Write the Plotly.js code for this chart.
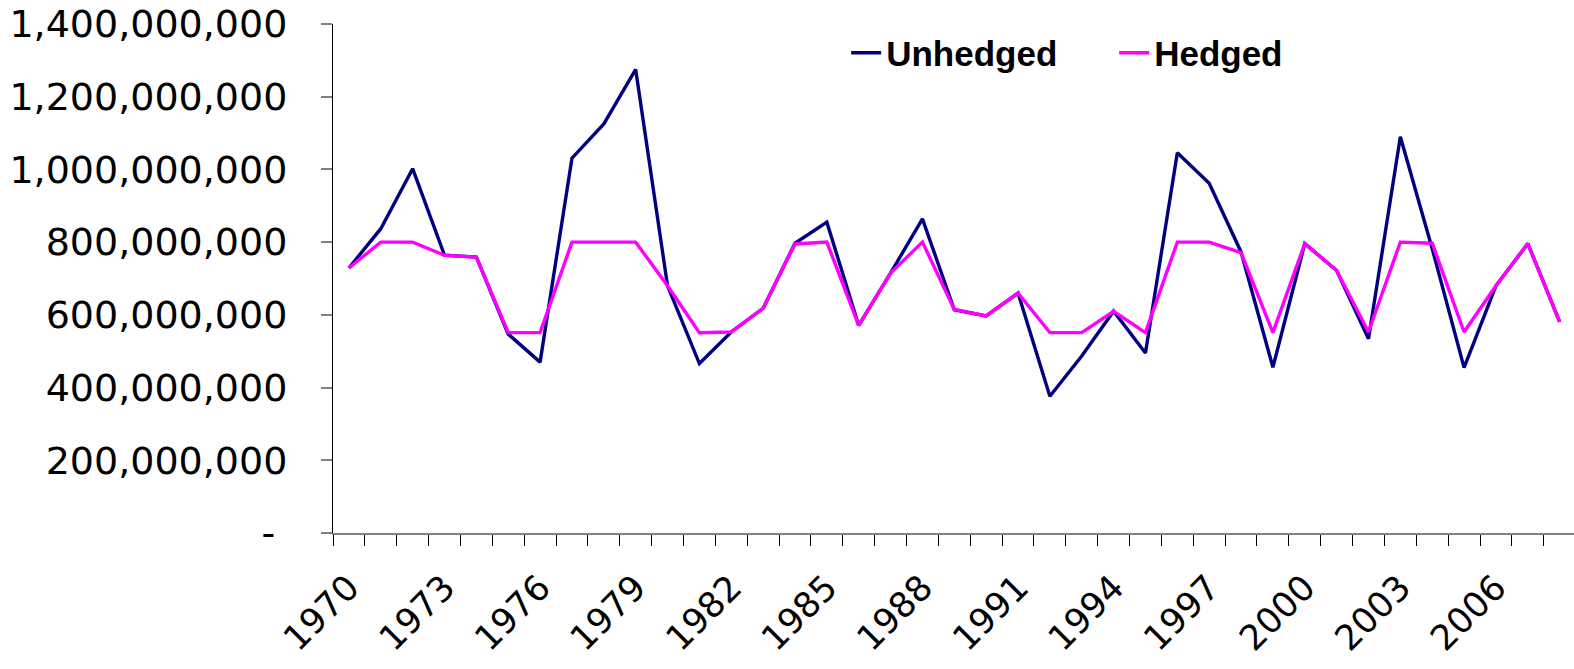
<!DOCTYPE html>
<html>
<head>
<meta charset="utf-8">
<script src="https://cdn.plot.ly/plotly-3.0.1.min.js"></script>
<style>
  html, body { margin: 0; padding: 0; background: #ffffff; }
  #chart { width: 1574px; height: 669px; }
</style>
</head>
<body>
<div id="chart"></div>
<script>
// ---- data ----
const years = [1970, 1971, 1972, 1973, 1974, 1975, 1976, 1977, 1978, 1979,
               1980, 1981, 1982, 1983, 1984, 1985, 1986, 1987, 1988, 1989,
               1990, 1991, 1992, 1993, 1994, 1995, 1996, 1997, 1998, 1999,
               2000, 2001, 2002, 2003, 2004, 2005, 2006, 2007, 2008];

const unhedged = [729e6, 837e6, 1002e6, 764e6, 759e6, 547e6, 470e6, 1031e6, 1125e6, 1275e6,
                  680e6, 466e6, 553e6, 618e6, 797e6, 855e6, 571e6, 715e6, 864e6, 614e6,
                  597e6, 660e6, 376e6, 487e6, 610e6, 495e6, 1046e6, 962e6, 773e6, 456e6,
                  796e6, 722e6, 534e6, 1090e6, 782e6, 455e6, 680e6, 796e6, 581e6];

const hedged = [729e6, 800e6, 800e6, 764e6, 759e6, 551e6, 551e6, 800e6, 800e6, 800e6,
                680e6, 551e6, 553e6, 618e6, 795e6, 800e6, 571e6, 715e6, 800e6, 615e6,
                597e6, 660e6, 551e6, 551e6, 610e6, 551e6, 800e6, 800e6, 771e6, 551e6,
                796e6, 722e6, 553e6, 800e6, 797e6, 553e6, 680e6, 796e6, 581e6];

const seriesNames = ["Unhedged", "Hedged"];

const xTickYears = [1970, 1973, 1976, 1979, 1982, 1985, 1988, 1991, 1994, 1997, 2000, 2003, 2006];
const xTickLabels = ["1970", "1973", "1976", "1979", "1982", "1985", "1988", "1991", "1994", "1997", "2000", "2003", "2006"];

const yTickValues = [0, 200e6, 400e6, 600e6, 800e6, 1000e6, 1200e6, 1400e6];
const yTickLabels = ["-\u00a0", "200,000,000", "400,000,000", "600,000,000", "800,000,000",
                     "1,000,000,000", "1,200,000,000", "1,400,000,000"];

// ---- traces ----
const traces = [
  {
    x: years, y: unhedged, name: seriesNames[0], type: "scatter", mode: "lines",
    line: { color: "#000080", width: 3.4 }
  },
  {
    x: years, y: hedged, name: seriesNames[1], type: "scatter", mode: "lines",
    line: { color: "#FF00FF", width: 3.4 }
  }
];

const layout = {
  width: 1574,
  height: 669,
  margin: { l: 333, r: 0, t: 24, b: 136 },
  paper_bgcolor: "#ffffff",
  plot_bgcolor: "#ffffff",
  showlegend: true,
  legend: {
    orientation: "h",
    x: 0.4135, xanchor: "left",
    y: 0.943, yanchor: "middle",
    font: { family: "Liberation Sans, Arial, sans-serif", size: 35, color: "#000000", weight: "bold" },
    bgcolor: "rgba(0,0,0,0)",
    entrywidth: 223
  },
  xaxis: {
    type: "linear",
    range: [1969.5, 2008.45],
    tickmode: "array",
    tickvals: xTickYears,
    ticktext: xTickLabels,
    tickangle: -45,
    ticks: "",
    showline: true, linecolor: "#808080", linewidth: 2,
    showgrid: false, zeroline: false,
    tickfont: { family: "DejaVu Sans, sans-serif", size: 35, color: "#000000" },
    ticklabelstandoff: 18,
    minor: { ticks: "outside", tick0: 1969.5, dtick: 1, ticklen: 11, tickwidth: 1, tickcolor: "#000000", showgrid: false }
  },
  yaxis: {
    range: [0, 1400e6],
    tickmode: "array",
    tickvals: yTickValues,
    ticktext: yTickLabels,
    ticks: "outside", ticklen: 11, tickwidth: 2, tickcolor: "#808080",
    showline: true, linecolor: "#000000", linewidth: 1,
    showgrid: false, zeroline: false,
    tickfont: { family: "DejaVu Sans, sans-serif", size: 38, color: "#000000" },
    ticklabelstandoff: 26
  }
};

Plotly.newPlot("chart", traces, layout, { staticPlot: true, displayModeBar: false });
</script>
</body>
</html>
